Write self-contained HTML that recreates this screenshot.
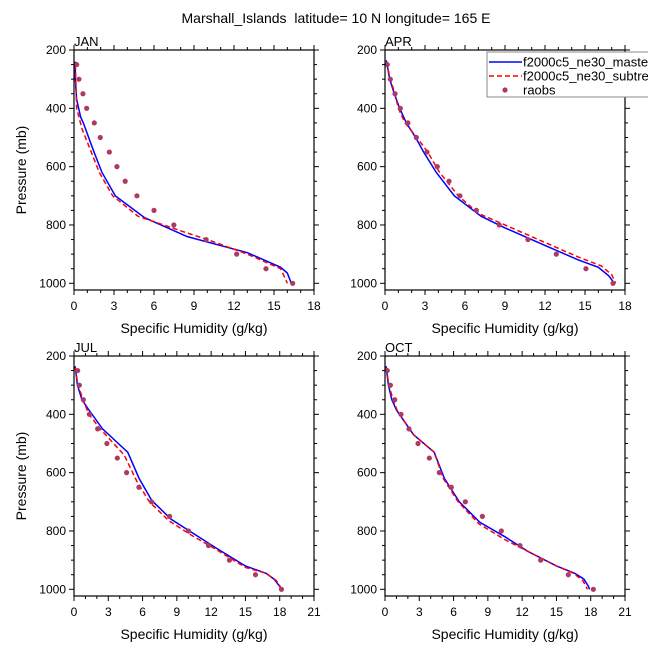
<!DOCTYPE html>
<html><head><meta charset="utf-8">
<style>
html,body{margin:0;padding:0;background:#fff;overflow:hidden;}
svg{display:block;font-family:"Liberation Sans",Arial,sans-serif;}
</style></head>
<body>
<svg id="chart" width="648" height="648" viewBox="0 0 648 648" xmlns="http://www.w3.org/2000/svg">
<rect width="648" height="648" fill="#fff"/>
<text x="336" y="23" font-size="14" text-anchor="middle">Marshall_Islands&#160; latitude= 10 N longitude= 165 E</text>
</svg>
<script>
const obsP = [250,300,350,400,450,500,550,600,650,700,750,800,850,900,950,1000];
const janObs = [0.2,0.37,0.67,0.95,1.52,1.97,2.65,3.22,3.84,4.72,6.0,7.49,9.91,12.2,14.4,16.4];
const aprObs = [0.17,0.4,0.75,1.15,1.72,2.35,3.15,3.92,4.8,5.62,6.85,8.57,10.72,12.85,15.07,17.1];
const julObs = [0.32,0.47,0.82,1.34,2.07,2.88,3.79,4.6,5.68,6.79,8.36,10.02,11.77,13.6,15.88,18.15];
const octObs = [0.2,0.47,0.85,1.4,2.1,2.89,3.88,4.75,5.8,7.03,8.52,10.18,11.81,13.62,16.04,18.23];

const janMasterP = [240,300,370,430,450,550,620,700,775,840,895,945,965,1000];
const janMasterQ = [0.1,0.1,0.2,0.5,0.7,1.5,2.1,3.1,5.3,8.5,13,15.5,16,16.3];
const janSubP = [250,400,470,620,700,770,820,850,900,950,980,1000];
const janSubQ = [0.1,0.2,0.6,1.9,2.9,4.8,8,10,13,15.5,15.8,16];

const aprMasterP = [235,300,350,400,450,500,550,620,700,770,810,870,920,945,975,1000];
const aprMasterQ = [0.1,0.35,0.7,1.1,1.6,2.3,2.9,3.85,5.2,7.2,9,12,14.5,16,16.8,17.2];
const aprSubP = [240,300,350,400,450,500,550,620,700,760,800,860,910,940,970,1000];
const aprSubQ = [0.1,0.4,0.75,1.0,1.5,2.4,3.2,4.1,5.5,7.0,9,12,14.5,16.2,17,17.3];

const julMasterP = [235,300,350,385,450,530,620,695,760,810,860,920,945,965,990,1000];
const julMasterQ = [0.1,0.3,0.7,1.3,2.5,4.7,5.7,6.8,8.5,10.5,12.5,15,16.8,17.5,18,18.1];
const julSubP = [240,300,350,400,450,540,630,700,765,815,865,925,945,970,1000];
const julSubQ = [0.1,0.35,0.8,1.3,2.3,4.4,5.5,6.6,8.3,10.3,12.5,15,16.8,17.7,18.2];

const octMasterP = [235,300,350,385,470,530,620,700,770,820,870,920,945,965,990,1000];
const octMasterQ = [0.1,0.3,0.6,1.0,2.5,4.3,5.2,6.5,8.3,10.5,12.5,15,16.6,17.4,17.8,17.9];
const octSubP = [240,300,350,390,470,530,620,700,775,830,880,920,945,970,990,1000];
const octSubQ = [0.1,0.35,0.7,1.1,2.5,4.3,5.1,6.4,8.2,10.5,13,15,16.5,17.3,17.6,17.7];

const xTicksTop = [0,3,6,9,12,15,18];
const xTicksBottom = [0,3,6,9,12,15,18,21];
const yTicks = [200,400,600,800,1000];

const NS = "http://www.w3.org/2000/svg";
const svg = document.getElementById('chart');
function mk(tag, attrs, parent){const e=document.createElementNS(NS,tag);for(const k in attrs)e.setAttribute(k,attrs[k]);(parent||svg).appendChild(e);return e;}

const panels = [
 {name:'jan',label:'JAN',x0:74,y0:50,xmax:18,xt:xTicksTop,obs:janObs,mP:janMasterP,mQ:janMasterQ,sP:janSubP,sQ:janSubQ,ylab:true},
 {name:'apr',label:'APR',x0:385,y0:50,xmax:18,xt:xTicksTop,obs:aprObs,mP:aprMasterP,mQ:aprMasterQ,sP:aprSubP,sQ:aprSubQ,ylab:false},
 {name:'jul',label:'JUL',x0:74,y0:356,xmax:21,xt:xTicksBottom,obs:julObs,mP:julMasterP,mQ:julMasterQ,sP:julSubP,sQ:julSubQ,ylab:true},
 {name:'oct',label:'OCT',x0:385,y0:356,xmax:21,xt:xTicksBottom,obs:octObs,mP:octMasterP,mQ:octMasterQ,sP:octSubP,sQ:octSubQ,ylab:false}
];
const W=240,H=240,PMIN=200,PMAX=200+240/(233.3/800);

panels.forEach(p=>{
  const g = mk('g',{});
  
  
  const xs = v=>p.x0+v/p.xmax*W;
  const ys = v=>p.y0+(v-PMIN)/(PMAX-PMIN)*H;
  for(let v=0;v<=p.xmax;v++){
    const major = v%3===0, L = major?5:3;
    mk('line',{x1:xs(v),x2:xs(v),y1:p.y0+H,y2:p.y0+H+L,stroke:'#000','stroke-width':1},g);
    mk('line',{x1:xs(v),x2:xs(v),y1:p.y0,y2:p.y0-L,stroke:'#000','stroke-width':1},g);
  }
  for(let v=200;v<=1000;v+=50){
    const major = v%200===0, L = major?5:3;
    mk('line',{x1:p.x0,x2:p.x0-L,y1:ys(v),y2:ys(v),stroke:'#000','stroke-width':1},g);
    mk('line',{x1:p.x0+W,x2:p.x0+W+L,y1:ys(v),y2:ys(v),stroke:'#000','stroke-width':1},g);
  }
  p.xt.forEach(v=>{
    const t = mk('text',{x:xs(v),y:p.y0+H+20,'font-size':12,'text-anchor':'middle'},g);
    
    
    t.textContent=v;
  });
  yTicks.forEach(v=>{
    const t = mk('text',{x:p.x0-8,y:ys(v)+4,'font-size':12,'text-anchor':'end'},g);
    
    
    t.textContent=v;
  });
  const xl = mk('text',{x:p.x0+W/2,y:p.y0+H+43,'font-size':14,'text-anchor':'middle'},g);
  
  
  xl.textContent='Specific Humidity (g/kg)';
  if(p.ylab){
    const yl = mk('text',{x:0,y:0,'font-size':14,'text-anchor':'middle',transform:`translate(${p.x0-48},${p.y0+H/2}) rotate(-90)`},g);
    
    
    yl.textContent='Pressure (mb)';
  }
  const lb = mk('text',{x:p.x0,y:p.y0-4,'font-size':13},g);
  
  
  lb.textContent=p.label;
  const mline = mk('polyline',{points:p.mQ.map((q,i)=>xs(q)+','+ys(p.mP[i])).join(' '),fill:'none',stroke:'#0000ff','stroke-width':1.5},g);
  
  
  const sline = mk('polyline',{points:p.sQ.map((q,i)=>xs(q)+','+ys(p.sP[i])).join(' '),fill:'none',stroke:'#ff0000','stroke-width':1.5,'stroke-dasharray':'5,3'},g);
  
  
  p.obs.forEach((q,i)=>{
    const c = mk('circle',{cx:xs(q),cy:ys(obsP[i]),r:2.6,fill:'#ad3a62'},g);
    
    
  });
  mk('rect',{x:p.x0,y:p.y0,width:W,height:H,fill:'none',stroke:'#000','stroke-width':1.2},g);
});

const lg = mk('g',{});


mk('rect',{x:487,y:52,width:180,height:45,fill:'#fff',stroke:'#888','stroke-width':1},lg);
const entries=[['f2000c5_ne30_master','#0000ff',null],['f2000c5_ne30_subtree','#ff0000','5,3'],['raobs',null,null]];
entries.forEach((e,i)=>{
  const y=62+i*14;
  const eg = mk('g',{},lg);
  
  
  if(e[1]){
    const a={x1:489,x2:522,y1:y,y2:y,stroke:e[1],'stroke-width':1.5};
    if(e[2]) a['stroke-dasharray']=e[2];
    mk('line',a,eg);
  } else {
    mk('circle',{cx:505,cy:y,r:2.6,fill:'#ad3a62'},eg);
  }
  const t=mk('text',{x:523,y:y+4.5,'font-size':13},eg);
  t.textContent=e[0];
});
</script>
</body></html>
